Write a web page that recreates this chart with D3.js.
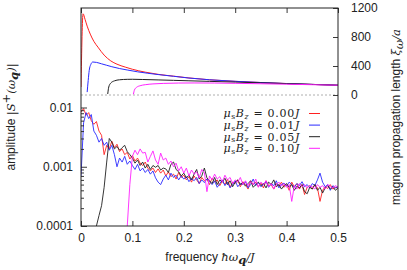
<!DOCTYPE html>
<html>
<head>
<meta charset="utf-8">
<script src="https://cdn.jsdelivr.net/npm/d3@7"></script>
<style>
  body { margin: 0; background: #fff; }
  svg { display: block; }
  .tick text { font-family: "Liberation Sans", Arial, sans-serif; font-size: 12px; fill: #222; }
  .lbl { font-family: "Liberation Sans", Arial, sans-serif; font-size: 12px; fill: #222; }
  .m { font-family: "DejaVu Serif", serif; font-style: italic; font-size: 11.5px; }
  .leg { font-family: "DejaVu Serif", serif; font-size: 11px; letter-spacing: 0.7px; fill: #222; }
</style>
</head>
<body>
<div id="chart"></div>
<script>
// series labels / colours
const fields = ['0.00', '0.01', '0.05', '0.10'];
const colors = ['#ff2020', '#2a2aff', '#202020', '#ff20ff'];

// upper panel: propagation length xi/a vs frequency [f, xi]
const xiRed = [[0, 110], [0.004, 1120], [0.008, 1040], [0.012, 950], [0.018, 840], [0.025, 740], [0.033, 660],
  [0.045, 550], [0.058, 470], [0.07, 425], [0.086, 385], [0.1, 355], [0.125, 315], [0.15, 285], [0.18, 260],
  [0.21, 235], [0.25, 210], [0.3, 188], [0.35, 172], [0.4, 158], [0.45, 146], [0.5, 135]];
const xiBlue = [[0.012, 40], [0.014, 200], [0.016, 340], [0.019, 420], [0.023, 455], [0.03, 450], [0.04, 430],
  [0.05, 410], [0.06, 390], [0.075, 365], [0.09, 345], [0.11, 320], [0.13, 300], [0.15, 282], [0.18, 258],
  [0.21, 234], [0.25, 210], [0.3, 189], [0.35, 172], [0.4, 158], [0.45, 146], [0.5, 135]];
const xiBlack = [[0.052, 14], [0.054, 110], [0.058, 165], [0.065, 195], [0.075, 210], [0.09, 216], [0.1, 217],
  [0.12, 214], [0.15, 208], [0.18, 202], [0.21, 196], [0.25, 188], [0.3, 178], [0.35, 168], [0.4, 157],
  [0.45, 146], [0.5, 135]];
const xiMagenta = [[0.102, 10], [0.104, 70], [0.108, 105], [0.115, 128], [0.125, 142], [0.14, 153], [0.16, 160],
  [0.19, 165], [0.22, 166], [0.26, 165], [0.3, 161], [0.35, 155], [0.4, 149], [0.45, 142], [0.5, 135]];

// lower panel: amplitude (units of 1e-3) on a common frequency grid
const freqs = [0, 0.005, 0.01, 0.015, 0.02, 0.025, 0.03, 0.035, 0.04, 0.045, 0.05, 0.055, 0.06, 0.065, 0.07,
  0.075, 0.08, 0.085, 0.09, 0.095, 0.1, 0.105, 0.11, 0.115, 0.12, 0.125, 0.13, 0.135, 0.14, 0.145, 0.15, 0.155,
  0.16, 0.165, 0.17, 0.175, 0.18, 0.185, 0.19, 0.195, 0.2, 0.205, 0.21, 0.215, 0.22, 0.225, 0.23, 0.235, 0.24,
  0.245, 0.25, 0.255, 0.26, 0.265, 0.27, 0.275, 0.28, 0.285, 0.29, 0.295, 0.3, 0.305, 0.31, 0.315, 0.32, 0.325,
  0.33, 0.335, 0.34, 0.345, 0.35, 0.355, 0.36, 0.365, 0.37, 0.375, 0.38, 0.385, 0.39, 0.395, 0.4, 0.405, 0.41,
  0.415, 0.42, 0.425, 0.43, 0.435, 0.44, 0.445, 0.45, 0.455, 0.46, 0.465, 0.47, 0.475, 0.48, 0.485, 0.49, 0.495, 0.5];
const ampRed = [8.4, 9.6, 7.4, 8.2, 6.0, 5.2, 5.8, 4.0, 3.4, 1.6,
  2.3, 2.0, 2.7, 2.1, 2.4, 1.8, 2.0, 1.6, 1.75, 1.35,
  1.55, 1.25, 1.4, 1.15, 1.05, 1.2, 0.95, 0.85, 0.95, 0.8,
  0.92, 0.78, 0.88, 0.7, 0.82, 0.68, 0.75, 0.62, 0.8, 0.66,
  0.72, 0.6, 0.68, 0.55, 0.7, 0.6, 0.52, 0.66, 0.58, 0.62,
  0.5, 0.64, 0.55, 0.6, 0.48, 0.58, 0.5, 0.62, 0.45, 0.55,
  0.52, 0.6, 0.46, 0.56, 0.5, 0.42, 0.58, 0.5, 0.55, 0.46,
  0.53, 0.44, 0.58, 0.48, 0.5, 0.42, 0.52, 0.47, 0.55, 0.45,
  0.5, 0.4, 0.55, 0.46, 0.52, 0.42, 0.5, 0.34, 0.45, 0.48,
  0.42, 0.5, 0.44, 0.26, 0.4, 0.46, 0.43, 0.5, 0.42, 0.45, 0.44];
const ampBlue = [0.7, 5.5, 8.2, 6.5, 7.6, 4.0, 3.4, 2.6, 3.0, 2.3,
  2.6, 1.9, 2.3, 1.6, 1.0, 1.4, 1.2, 1.5, 1.1, 1.25,
  1.05, 0.9, 1.1, 0.85, 0.95, 0.8, 0.9, 0.75, 0.85, 0.65,
  0.55, 0.5, 0.62, 0.72, 0.6, 0.78, 0.66, 0.72, 0.6, 0.7,
  0.62, 0.68, 0.56, 0.64, 0.58, 0.66, 0.52, 0.6, 0.54, 0.62,
  0.56, 0.5, 0.58, 0.45, 0.52, 0.6, 0.48, 0.55, 0.44, 0.5,
  0.58, 0.46, 0.52, 0.5, 0.56, 0.44, 0.5, 0.62, 0.48, 0.54,
  0.46, 0.5, 0.56, 0.45, 0.52, 0.48, 0.58, 0.44, 0.5, 0.53,
  0.47, 0.55, 0.5, 0.45, 0.52, 0.48, 0.56, 0.46, 0.5, 0.44,
  0.52, 0.48, 0.6, 0.78, 0.55, 0.46, 0.5, 0.4, 0.48, 0.44, 0.46];
const ampBlack = [null, null, null, null, null, null, 0.1, 0.15, 0.22, 0.45,
  1.2, 3.0, 2.6, 2.0, 2.2, 1.9, 2.1, 2.3, 1.8, 1.6,
  1.4, 1.15, 1.3, 1.05, 1.2, 0.95, 1.1, 0.9, 1.05, 0.98,
  1.05, 0.88, 0.95, 0.92, 0.8, 1.1, 1.2, 0.9, 0.82, 0.7,
  0.78, 0.65, 0.72, 0.6, 0.75, 0.9, 0.62, 0.7, 0.95, 0.65,
  0.58, 0.52, 0.66, 0.5, 0.6, 0.55, 0.64, 0.5, 0.58, 0.46,
  0.55, 0.6, 0.5, 0.54, 0.47, 0.52, 0.58, 0.45, 0.5, 0.55,
  0.48, 0.52, 0.44, 0.55, 0.5, 0.6, 0.46, 0.5, 0.42, 0.48,
  0.52, 0.45, 0.5, 0.4, 0.47, 0.44, 0.5, 0.38, 0.35, 0.45,
  0.42, 0.5, 0.4, 0.45, 0.36, 0.44, 0.48, 0.42, 0.46, 0.4, 0.44];
const ampMagenta = [null, null, null, null, null, null, null, null, null, null,
  null, null, null, null, null, null, null, null, 0.1, 0.5,
  1.5, 1.9, 1.6, 2.0, 1.7, 1.75, 1.2, 1.5, 1.85, 1.3,
  1.1, 1.7, 1.3, 1.4, 1.1, 1.25, 1.0, 1.15, 0.85, 1.0,
  0.78, 0.95, 0.7, 0.88, 0.75, 0.82, 0.65, 0.9, 0.8, 0.38,
  0.7, 0.6, 0.75, 0.62, 0.68, 0.55, 0.72, 0.6, 0.66, 0.52,
  0.6, 0.55, 0.66, 0.5, 0.58, 0.48, 0.56, 0.5, 0.62, 0.45,
  0.55, 0.5, 0.58, 0.46, 0.52, 0.42, 0.5, 0.55, 0.47, 0.52,
  0.45, 0.5, 0.26, 0.48, 0.42, 0.52, 0.46, 0.5, 0.44, 0.48,
  0.46, 0.42, 0.5, 0.45, 0.48, 0.42, 0.5, 0.46, 0.44, 0.48, 0.45];

const xTicks = [0, 0.1, 0.2, 0.3, 0.4, 0.5];
const ampTicks = [1e-4, 1e-3, 1e-2];
const ampTickLabels = ['0.0001', '0.001', '0.01'];
const xiTicks = [0, 400, 800, 1200];

const width = 407, height = 270;
const mLeft = 81, mRight = 338, mTop = 8, mBottom = 226;

const svg = d3.select('#chart').append('svg')
  .attr('width', width)
  .attr('height', height);

const x = d3.scaleLinear().domain([0, 0.5]).range([mLeft, mRight]);
const yAmp = d3.scaleLog().domain([1e-4, 1e-2]).range([mBottom, 107.5]);
const yXi = d3.scaleLinear().domain([0, 1200]).range([95, mTop]);

svg.append('clipPath').attr('id', 'clip')
  .append('rect').attr('x', mLeft).attr('y', mTop).attr('width', mRight - mLeft).attr('height', mBottom - mTop);

// zero line of the upper panel
svg.append('line')
  .attr('x1', mLeft).attr('x2', mRight)
  .attr('y1', yXi(0)).attr('y2', yXi(0))
  .attr('stroke', '#999').attr('stroke-width', 0.8).attr('stroke-dasharray', '2,2');

// lower panel: noisy amplitude spectra
const ampSeries = [ampRed, ampBlue, ampBlack, ampMagenta];
const ampLine = d3.line()
  .defined(d => d[1] != null)
  .x(d => x(d[0]))
  .y(d => yAmp(d[1] * 1e-3));

const plot = svg.append('g').attr('clip-path', 'url(#clip)');
ampSeries.forEach((vals, i) => {
  plot.append('path')
    .datum(freqs.map((f, j) => [f, vals[j]]))
    .attr('fill', 'none')
    .attr('stroke', colors[i])
    .attr('stroke-width', 0.9)
    .attr('d', ampLine);
});

// upper panel: propagation length curves
const xiSeries = [xiRed, xiBlue, xiBlack, xiMagenta];
const xiLine = d3.line()
  .x(d => x(d[0]))
  .y(d => yXi(d[1]))
  .curve(d3.curveMonotoneX);
xiSeries.forEach((vals, i) => {
  plot.append('path')
    .datum(vals)
    .attr('fill', 'none')
    .attr('stroke', colors[i])
    .attr('stroke-width', 1)
    .attr('d', xiLine);
});

// axes
svg.append('g')
  .attr('transform', `translate(0,${mBottom})`)
  .call(d3.axisBottom(x).tickValues(xTicks).tickFormat(d3.format('')).tickSize(-5).tickPadding(7))
  .call(g => g.select('.domain').remove());

svg.append('g')
  .attr('transform', `translate(0,${mTop})`)
  .call(d3.axisTop(x).tickValues(xTicks).tickFormat('').tickSize(-5))
  .call(g => g.select('.domain').remove());

svg.append('g')
  .attr('transform', `translate(${mLeft},0)`)
  .call(d3.axisLeft(yAmp).tickValues(ampTicks)
    .tickFormat((d, i) => ampTickLabels[i]).tickSize(-6).tickPadding(8))
  .call(g => g.select('.domain').remove());

// minor log ticks
const minor = [];
[1e-4, 1e-3].forEach(dec => { for (let k = 2; k <= 9; k++) minor.push(dec * k); });
svg.append('g')
  .attr('transform', `translate(${mLeft},0)`)
  .call(d3.axisLeft(yAmp).tickValues(minor).tickFormat('').tickSize(-3))
  .call(g => g.select('.domain').remove());

svg.append('g')
  .attr('transform', `translate(${mRight},0)`)
  .call(d3.axisRight(yXi).tickValues(xiTicks).tickFormat(d3.format('d')).tickSize(-5).tickPadding(13))
  .call(g => g.select('.domain').remove())
  .call(g => g.selectAll('.tick text').attr('text-anchor', 'start'));

svg.selectAll('.tick line').attr('stroke', '#222').attr('stroke-width', 0.9);

// frame
svg.append('rect')
  .attr('x', mLeft).attr('y', mTop)
  .attr('width', mRight - mLeft).attr('height', mBottom - mTop)
  .attr('fill', 'none').attr('stroke', '#222').attr('stroke-width', 1);

// axis titles
const xl = svg.append('text').attr('class', 'lbl')
  .attr('x', 210).attr('y', 261).attr('text-anchor', 'middle');
xl.append('tspan').text('frequency ');
xl.append('tspan').attr('class', 'm').attr('font-style', 'normal').text('ħ');
xl.append('tspan').attr('class', 'm').text('ω');
xl.append('tspan').attr('class', 'm').attr('font-weight', 'bold').attr('font-style', 'normal')
  .attr('font-size', 8.5).attr('dy', 3).text('q');
xl.append('tspan').attr('class', 'm').attr('dy', -3).text('/J');

const yl = svg.append('text').attr('class', 'lbl')
  .attr('transform', 'translate(15,117) rotate(-90)').attr('text-anchor', 'middle');
yl.append('tspan').text('amplitude ');
yl.append('tspan').attr('class', 'm').text('|S');
yl.append('tspan').attr('class', 'm').attr('font-style', 'normal').attr('font-size', 8.5).attr('dy', -5).text('+');
yl.append('tspan').attr('class', 'm').attr('font-style', 'normal').attr('dy', 5).text('(');
yl.append('tspan').attr('class', 'm').text('ω');
yl.append('tspan').attr('class', 'm').attr('font-weight', 'bold').attr('font-style', 'normal')
  .attr('font-size', 8.5).attr('dy', 3).text('q');
yl.append('tspan').attr('class', 'm').attr('font-style', 'normal').attr('dy', -3).text(')|');

const rl = svg.append('text').attr('class', 'lbl')
  .attr('transform', 'translate(400,117) rotate(-90)').attr('text-anchor', 'middle');
rl.append('tspan').text('magnon propagation length ');
rl.append('tspan').attr('class', 'm').text('ξ');
rl.append('tspan').attr('class', 'm').attr('font-size', 8.5).attr('dy', 3).text('ω');
rl.append('tspan').attr('class', 'm').attr('dy', -3).text('/a');

// legend
const legend = svg.append('g');
fields.forEach((f, i) => {
  const yy = 113.5 + i * 11.6;
  const t = legend.append('text').attr('class', 'leg')
    .attr('x', 300).attr('y', yy + 3.9).attr('text-anchor', 'end');
  t.append('tspan').attr('font-style', 'italic').text('μ');
  t.append('tspan').attr('font-size', 7.5).attr('dy', 1.5).text('s');
  t.append('tspan').attr('font-style', 'italic').attr('dy', -1.5).text('B');
  t.append('tspan').attr('font-style', 'italic').attr('font-size', 7.5).attr('dy', 1.5).text('z');
  t.append('tspan').attr('dy', -1.5).text(' = ' + f);
  t.append('tspan').attr('font-style', 'italic').text('J');
  legend.append('line')
    .attr('x1', 309).attr('x2', 320)
    .attr('y1', yy).attr('y2', yy)
    .attr('stroke', colors[i]).attr('stroke-width', 1);
});
</script>
</body>
</html>
